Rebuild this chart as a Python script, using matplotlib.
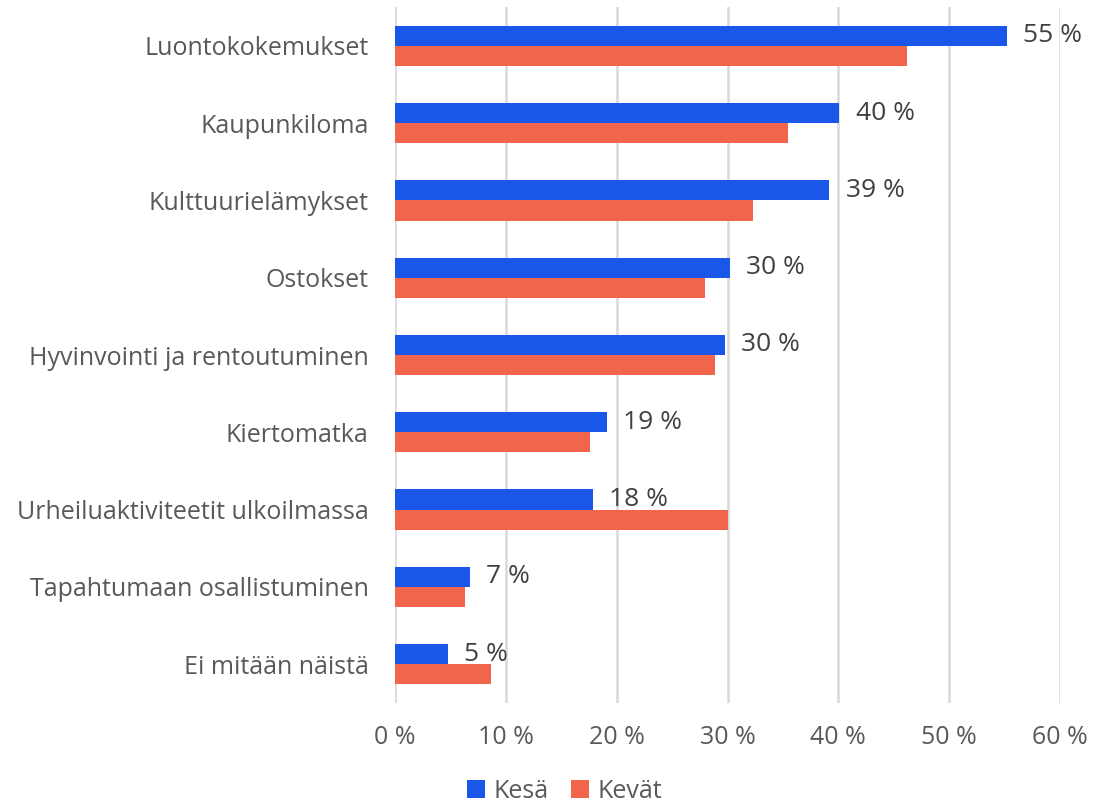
import numpy as np
import matplotlib.pyplot as plt

plt.rcParams['font.family'] = ['Open Sans', 'DejaVu Sans']

categories = ['Luontokokemukset', 'Kaupunkiloma', 'Kulttuurielämykset', 'Ostokset',
              'Hyvinvointi ja rentoutuminen', 'Kiertomatka',
              'Urheiluaktiviteetit ulkoilmassa', 'Tapahtumaan osallistuminen',
              'Ei mitään näistä']
kesa = [55.2, 40.1, 39.2, 30.2, 29.8, 19.1, 17.9, 6.8, 4.8]
kevat = [46.2, 35.5, 32.3, 28.0, 28.9, 17.6, 30.0, 6.3, 8.7]
kesa_labels = ['55 %', '40 %', '39 %', '30 %', '30 %', '19 %', '18 %', '7 %', '5 %']

blue = '#1a56e8'
red = '#f2654d'

fig = plt.figure(figsize=(10.94, 8.05), dpi=100)
ax = fig.add_axes([0.361, 0.127, 0.608, 0.864])

y = np.arange(len(categories))
h = 0.26
ax.barh(y - h / 2, kesa, height=h, color=blue, label='Kesä', zorder=3)
ax.barh(y + h / 2, kevat, height=h, color=red, label='Kevät', zorder=3)

for yi, v, lab in zip(y, kesa, kesa_labels):
    ax.text(v + 1.45, yi - h / 2, lab, va='center', ha='left', fontsize=19,
            color='#404040', zorder=4)

ax.set_xlim(0, 60)
ax.set_ylim(len(categories) - 0.5, -0.5)
ax.set_xticks(range(0, 61, 10))
ax.set_xticklabels([f'{t} %' for t in range(0, 61, 10)])
ax.set_yticks(y)
ax.set_yticklabels(categories)
ax.tick_params(axis='both', length=0, labelsize=18, colors='#595959')
ax.tick_params(axis='y', pad=19)
ax.tick_params(axis='x', pad=16)
ax.grid(axis='x', color='#d9d9d9', linewidth=1.8, zorder=0)
for s in ax.spines.values():
    s.set_visible(False)

ax.legend(loc='center', bbox_to_anchor=(0.255, -0.127), ncol=2, frameon=False,
          fontsize=18, handlelength=0.7, handleheight=0.7, handletextpad=0.35,
          columnspacing=0.9, labelcolor='#595959', borderpad=0.2)

fig.savefig('out.png', dpi=100)
